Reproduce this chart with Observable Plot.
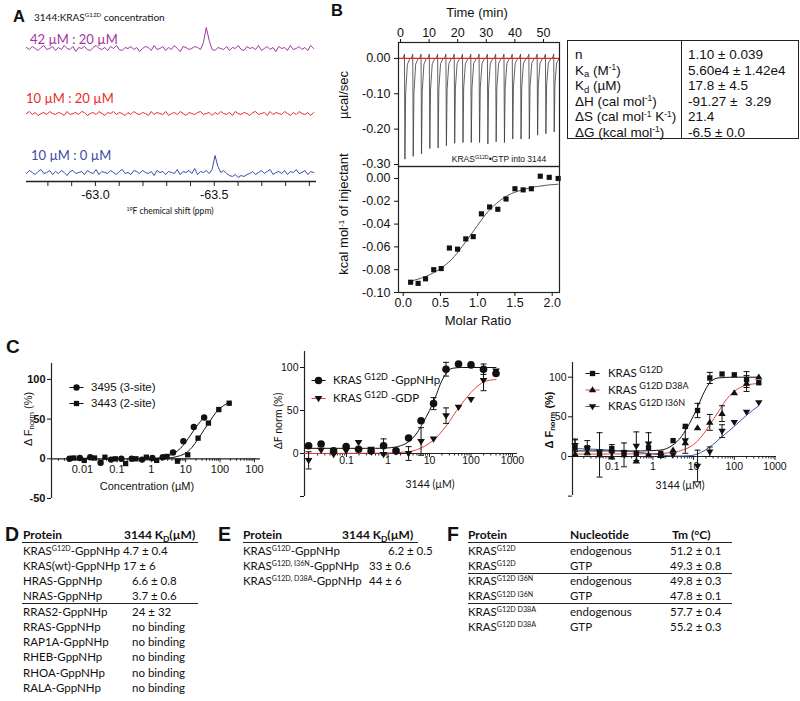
<!DOCTYPE html>
<html>
<head>
<meta charset="utf-8">
<script src="https://cdn.jsdelivr.net/npm/d3@7"></script>
<script src="https://cdn.jsdelivr.net/npm/@observablehq/plot@0.6"></script>
<style>
  html, body { margin: 0; padding: 0; background: #fff; }
  #fig { position: relative; width: 800px; height: 701px; overflow: hidden; font-family: "Liberation Sans", Arial, sans-serif; color: #111; }
  .t { position: absolute; white-space: nowrap; line-height: 1.1; }
  .p { position: absolute; }
  .p svg { display: block; overflow: visible; }
  .t sup { font-size: 0.62em; position: relative; top: -0.5em; vertical-align: baseline; line-height: 0; }
  .t sub { font-size: 0.7em; position: relative; top: 0.3em; vertical-align: baseline; line-height: 0; }
  .t.lg sup { font-size: 0.78em; top: -0.45em; }
  .hr { position: absolute; height: 0; border-top: 1.4px solid #222; }
</style>
</head>
<body>
<div id="fig"></div>
<script>
// ================= DATA =================
// ---- Panel A: 19F NMR spectra (intensity, arbitrary units) ----
const nmrPpmStart = -62.71;
const nmrPpmStep = -0.0122;
const nmr42_20 = [1,-1,2,0,-2,1,3,-1,0,2, -2,1,-1,3,0,-1,2,-3,1,0, 2,-1,-2,1,3,0,-1,1,-2,2, 0,3,-1,-2,1,0,2,-1,1,-3,
  0,2,1,-2,3,-1,0,2,-2,1, -1,3,0,-3,2,1,-1,0,2,1, -1,6,21,8,-1,-2,1,0,-1,2, -2,1,0,3,-1,-2,2,0,1,-1,
  3,-2,0,2,-1,1,-3,2,0,1, -2,3,-1,0,2,-1,1,-2,3,0];
const nmr10_20 = [0,2,-1,1,-2,0,1,-1,2,0, -1,1,0,-2,2,-1,0,1,-1,2, 1,-2,0,1,-1,2,0,-2,1,0, 2,-1,1,0,-2,1,-1,2,0,-1,
  1,0,-2,2,-1,1,0,-1,2,-2, 0,1,-1,2,0,-2,1,0,-1,1, 2,-1,0,1,-2,1,-1,2,0,-1, 1,-2,2,0,-1,1,0,-2,1,2,
  -1,0,1,-2,2,-1,1,0,-1,2, 0,-2,1,-1,2,0,-1,1,-2,1];
const nmr10_0 = [-1,2,0,-2,1,3,-1,0,2,-2, 1,-1,2,0,-3,1,2,-1,0,1, -2,2,0,-1,3,-2,1,0,-1,2, 0,-2,1,3,-1,0,-2,2,1,-1,
  2,0,-1,1,-3,2,0,1,-2,1, 0,-1,3,-2,1,0,2,-1,4,-2, 1,0,2,-1,3,17,6,0,2,-1, -3,-4,-2,-5,-3,-4,-2,-1,1,-2,
  0,2,-1,1,3,-2,0,1,-1,2, -2,1,0,3,-1,0,2,-2,1,0];
const nmrTraceLabels = ["42 µM : 20 µM", "10 µM : 20 µM", "10 µM : 0 µM"];
const nmrTickValues = [-62.8, -62.9, -63.0, -63.1, -63.2, -63.3, -63.4, -63.5, -63.6, -63.7, -63.8, -63.9];
const nmrTickLabels = ["", "", "-63.0", "", "", "", "", "-63.5", "", "", "", ""];

// ---- Panel B: ITC ----
const itcInjectionTime = [1.5, 4.4, 7.3, 10.2, 13.1, 16.0, 18.9, 21.8, 24.7, 27.6, 30.5, 33.4, 36.3, 39.2, 42.1, 45.0, 47.9, 50.8, 53.7];
const itcPeakMinimum = [-0.285, -0.277, -0.270, -0.255, -0.253, -0.247, -0.240, -0.238, -0.238, -0.238, -0.242, -0.236, -0.238, -0.228, -0.228, -0.228, -0.217, -0.213, -0.208];
const itcMolarRatio = [0.10, 0.20, 0.30, 0.41, 0.51, 0.62, 0.73, 0.84, 0.94, 1.05, 1.16, 1.27, 1.38, 1.50, 1.61, 1.72, 1.84, 1.96, 2.08];
const itcHeat = [-0.091, -0.092, -0.088, -0.080, -0.079, -0.061, -0.062, -0.053, -0.051, -0.031, -0.025, -0.027, -0.018, -0.009, -0.010, -0.009, 0.002, 0.001, 0.000];
const itcFitRatio = [0.10, 0.30, 0.50, 0.65, 0.80, 0.90, 1.00, 1.10, 1.25, 1.40, 1.60, 1.80, 2.08];
const itcFitHeat = [-0.090, -0.086, -0.079, -0.071, -0.059, -0.050, -0.041, -0.032, -0.022, -0.015, -0.010, -0.007, -0.005];
const itcTimeTicks = [0, 10, 20, 30, 40, 50];
const itcRateTicks = [0, -0.1, -0.2, -0.3];
const itcRatioTicks = [0, 0.5, 1, 1.5, 2];
const itcHeatTicks = [0, -0.02, -0.04, -0.06, -0.08, -0.1];
const itcParamNames = ["n", "K<sub>a</sub> (M<sup>-1</sup>)", "K<sub>d</sub> (µM)", "ΔH (cal mol<sup>-1</sup>)", "ΔS (cal mol<sup>-1</sup> K<sup>-1</sup>)", "ΔG (kcal mol<sup>-1</sup>)"];
const itcParamValues = ["1.10 ± 0.039", "5.60e4 ± 1.42e4", "17.8 ± 4.5", "-91.27 ±&nbsp; 3.29", "21.4", "-6.5 ± 0.0"];

// ---- Panel C left: MST, compounds 3495 / 3443 ----
const c1Conc3495 = [0.0042, 0.0084, 0.0168, 0.0337, 0.0674, 0.135, 0.27, 0.54, 1.08, 2.16, 4.3, 8.6, 17.3, 34.5];
const c1Resp3495 = [0, 1, 2, -5, -1, 0, 0, -1, 1, 2, 8, 22, 40, 52];
const c1Conc3443 = [0.0056, 0.0113, 0.0225, 0.045, 0.09, 0.18, 0.36, 0.72, 1.44, 2.88, 5.8, 11.5, 23, 46, 92, 184.5];
const c1Resp3443 = [1, -2, 1, 2, 0, -6, 0, 2, -2, 3, -3, 5, 26, 45, 62, 70];
const c1Fit3495Conc = [1, 2, 3, 5, 7, 10, 14, 20, 27, 34.5];
const c1Fit3495Resp = [0, 1.5, 3.5, 8, 13, 21, 30, 40, 47, 53];
const c1Fit3443Conc = [2, 4, 7, 10, 15, 23, 35, 50, 75, 110, 150, 184.5];
const c1Fit3443Resp = [0, 1.5, 4, 7, 14, 25, 37, 47, 58, 65, 69, 71];
const c1Legend = ["3495 (3-site)", "3443 (2-site)"];
const c1XTicks = [0.01, 0.1, 1, 10, 100, 1000];
const c1XTickLabels = ["0.01", "0.1", "1", "10", "100", "100"];
const c1YTicks = [-50, 0, 50, 100];
const c1YTickLabels = ["-50", "0", "50", "100"];

// ---- Panel C middle: KRAS G12D GppNHp vs GDP ----
const c2Conc = [0.0122, 0.0244, 0.0488, 0.0977, 0.195, 0.391, 0.781, 1.56, 3.13, 6.25, 12.5, 25, 50, 100, 200, 400];
const c2GppNHp = [9, 11, 3, 8, 5, 3, 9, 3, 18, 38, 58, 98, 104, 103, 98, 93];
const c2GppNHpErr = [0, 0, 0, 0, 0, 0, 8, 0, 0, 0, 7, 8, 0, 0, 6, 0];
const c2GDP = [-8, 4, -1, 3, 13, 5, -1, 2, 0, 14, 17, 44, 54, 63, 85, 96];
const c2GDPErr = [10, 0, 0, 0, 0, 0, 0, 0, 8, 16, 0, 9, 0, 0, 12, 0];
const c2FitGppNHpConc = [0.0097, 0.5, 1, 2, 3, 5, 7, 10, 14, 18, 25, 35, 60, 400];
const c2FitGppNHpResp = [6, 6, 6.5, 9, 13, 24, 36, 50, 66, 80, 93, 99, 100, 100];
const c2FitGDPConc = [0.0097, 1, 3, 6, 10, 15, 20, 30, 45, 70, 100, 150, 220, 400];
const c2FitGDPResp = [0, 0.5, 2, 6, 12, 19, 26, 37, 50, 62, 71, 79, 84, 86];
const c2Legend = ["KRAS<sup> G12D</sup> -GppNHp", "KRAS<sup> G12D</sup> -GDP"];
const c2XTicks = [0.1, 1, 10, 100, 1000];
const c2XTickLabels = ["0.1", "1", "10", "100", "1000"];
const c2YTicks = [-50, 0, 50, 100];
const c2YTickLabels = ["", "0", "50", "100"];

// ---- Panel C right: KRAS G12D mutants ----
const c3Conc = [0.0122, 0.0244, 0.0488, 0.0977, 0.195, 0.391, 0.781, 1.56, 3.13, 6.25, 12.5, 25, 50, 100, 200, 400];
const c3G12D = [11, 11, 3, 10, 5, 4, 11, 4, 20, 38, 58, 99, 104, 103, 97, 93];
const c3G12DErr = [10, 9, 0, 5, 0, 0, 0, 0, 0, 0, 9, 7, 0, 0, 10, 0];
const c3D38A = [3, 5, 2, -1, 2, -6, 2, 1, 8, 17, 36, 43, 54, 80, 92, 100];
const c3D38AErr = [0, 0, 28, 0, 15, 0, 0, 0, 0, 0, 0, 10, 10, 0, 10, 0];
const c3I36N = [14, 10, 6, 5, 5, 13, 16, 1, 2, 20, -12, 6, 32, 43, 56, 68];
const c3I36NErr = [8, 0, 0, 0, 0, 18, 14, 0, 0, 16, 20, 6, 8, 0, 0, 0];
const c3FitG12DConc = [0.0106, 0.5, 1.5, 3, 5, 8, 12, 17, 25, 40, 100, 400];
const c3FitG12DResp = [7, 7, 8, 14, 25, 42, 60, 78, 93, 99, 100, 100];
const c3FitD38AConc = [0.0106, 1, 3, 6, 10, 15, 25, 40, 60, 100, 200, 400];
const c3FitD38AResp = [3, 3.5, 5, 9, 15, 24, 40, 56, 70, 82, 90, 92];
const c3FitI36NConc = [0.0106, 0.1, 0.5, 1.5, 4, 8, 15, 25, 50, 100, 200, 400];
const c3FitI36NResp = [10, 8, 5, 2, 0.5, 1, 5, 12, 25, 38, 52, 64];
const c3Legend = ["KRAS<sup> G12D</sup>", "KRAS<sup> G12D D38A</sup>", "KRAS<sup> G12D I36N</sup>"];
const c3XTicks = [0.1, 1, 10, 100, 1000];
const c3XTickLabels = ["0.1", "1", "10", "100", "1000"];
const c3YTicks = [-50, 0, 50, 100];
const c3YTickLabels = ["", "0", "50", "100"];

// ---- Tables D, E, F ----
const dProteins = ["KRAS<sup>G12D</sup>-GppNHp", "KRAS(wt)-GppNHp", "HRAS-GppNHp", "NRAS-GppNHp", "RRAS2-GppNHp", "RRAS-GppNHp", "RAP1A-GppNHp", "RHEB-GppNHp", "RHOA-GppNHp", "RALA-GppNHp"];
const dKd = ["4.7 ± 0.4", "17 ± 6", "6.6 ± 0.8", "3.7 ± 0.6", "24 ± 32", "no binding", "no binding", "no binding", "no binding", "no binding"];
const eProteins = ["KRAS<sup>G12D</sup>-GppNHp", "KRAS<sup>G12D, I36N</sup>-GppNHp", "KRAS<sup>G12D, D38A</sup>-GppNHp"];
const eKd = ["6.2 ± 0.5", "33 ± 0.6", "44 ± 6"];
const fProteins = ["KRAS<sup>G12D</sup>", "KRAS<sup>G12D</sup>", "KRAS<sup>G12D I36N</sup>", "KRAS<sup>G12D I36N</sup>", "KRAS<sup>G12D D38A</sup>", "KRAS<sup>G12D D38A</sup>"];
const fNucleotide = ["endogenous", "GTP", "endogenous", "GTP", "endogenous", "GTP"];
const fTm = ["51.2 ± 0.1", "49.3 ± 0.8", "49.8 ± 0.3", "47.8 ± 0.1", "57.7 ± 0.4", "55.2 ± 0.3"];

// ================= HELPERS =================
const fig = document.getElementById("fig");
const ARIAL = "'Liberation Sans', Arial, sans-serif";
const LATO = "Lato, 'Open Sans', sans-serif";
function txt(html, x, y, o = {}) {
  const d = document.createElement("div");
  d.className = "t" + (o.cls ? " " + o.cls : "");
  d.innerHTML = html;
  d.style.left = x + "px";
  d.style.top = y + "px";
  const ax = o.anchor === "middle" ? "-50%" : o.anchor === "end" ? "-100%" : "0";
  d.style.transform = o.rotate ? `translate(-50%,-50%) rotate(${o.rotate}deg)` : `translate(${ax},-50%)`;
  d.style.fontSize = (o.size || 12) + "px";
  d.style.fontFamily = o.font || ARIAL;
  if (o.weight) d.style.fontWeight = o.weight;
  if (o.color) d.style.color = o.color;
  fig.appendChild(d);
  return d;
}
function hr(x1, x2, y) {
  const d = document.createElement("div");
  d.className = "hr";
  d.style.left = x1 + "px"; d.style.width = (x2 - x1) + "px"; d.style.top = y + "px";
  fig.appendChild(d);
}
function place(svg, x, y, w) {
  const d = document.createElement("div");
  d.className = "p";
  d.style.left = x + "px"; d.style.top = y + "px"; d.style.width = w + "px";
  d.appendChild(svg);
  fig.appendChild(d);
}
const sty = (fs) => ({background: "transparent", fontFamily: ARIAL, fontSize: fs + "px", color: "#111", overflow: "visible"});
const hline = {draw(ctx, size) { const w = Math.sqrt(size / Math.PI); ctx.moveTo(-w, 0); ctx.lineTo(w, 0); }};
const triDown = {draw(ctx, size) { const r = Math.sqrt(size / Math.PI) * 1.2; ctx.moveTo(-r, -r * 0.62); ctx.lineTo(r, -r * 0.62); ctx.lineTo(0, r); ctx.closePath(); }};
const triUp = {draw(ctx, size) { const r = Math.sqrt(size / Math.PI) * 1.2; ctx.moveTo(-r, r * 0.62); ctx.lineTo(r, r * 0.62); ctx.lineTo(0, -r); ctx.closePath(); }};
const zip = (xs, ys) => xs.map((x, i) => ({x, y: ys[i]}));

// ================= PANEL A =================
const nmrTraces = [
  {values: nmr42_20, color: "#a2359d", offset: 133},
  {values: nmr10_20, color: "#ec2a2c", offset: 68},
  {values: nmr10_0, color: "#3b4ba5", offset: 9}
];
const nmrData = nmrTraces.flatMap((t, k) => t.values.map((v, i) => ({k, ppm: nmrPpmStart + i * nmrPpmStep, y: t.offset + v})));
const nmrLabelMap = new Map(nmrTickValues.map((v, i) => [v, nmrTickLabels[i]]));
const plotA = Plot.plot({
  width: 340, height: 215, marginLeft: 26, marginRight: 24, marginTop: 20, marginBottom: 34,
  style: sty(12.5),
  x: {domain: [-62.71, -63.93]},
  y: {domain: [0, 161], axis: null},
  marks: [
    Plot.ruleY([0], {stroke: "#222", strokeWidth: 1.3}),
    Plot.axisX({ticks: nmrTickValues, tickFormat: d => nmrLabelMap.get(d) ?? "", tickSize: 5, tickPadding: 4, label: null, stroke: "#222"}),
    ...nmrTraces.map((t, k) => Plot.line(nmrData.filter(d => d.k === k), {x: "ppm", y: "y", stroke: t.color, strokeWidth: 1}))
  ]
});
place(plotA, 0, 0, 340);
txt("A", 13, 15.5, {size: 16.5, weight: "bold"});
txt("3144:KRAS<sup>G12D</sup> concentration", 34, 16.5, {size: 10, font: LATO});
txt(nmrTraceLabels[0], 30, 38.5, {size: 13, font: LATO, color: nmrTraces[0].color});
txt(nmrTraceLabels[1], 26, 98, {size: 13, font: LATO, color: nmrTraces[1].color});
txt(nmrTraceLabels[2], 31, 155, {size: 13, font: LATO, color: nmrTraces[2].color});
txt("<sup>19</sup>F chemical shift (ppm)", 170, 212, {size: 8.5, font: LATO, anchor: "middle"});

// ================= PANEL B =================
const spikeData = itcInjectionTime.flatMap((t, i) => {
  const m = itcPeakMinimum[i];
  return [[t - 0.6, 0], [t - 0.12, 0.012], [t + 0.05, m], [t + 0.3, m * 0.35], [t + 0.9, m * 0.06], [t + 1.8, 0]].map(([x, y]) => ({i, x, y}));
});
const plotBTop = Plot.plot({
  width: 240, height: 170, marginLeft: 68, marginRight: 11, marginTop: 42, marginBottom: 4,
  style: sty(12.5),
  x: {domain: [-0.7, 55.6]},
  y: {domain: [-0.3057, 0.045]},
  marks: [
    Plot.line(spikeData, {x: "x", y: "y", z: "i", stroke: "#3a3a3a", strokeWidth: 0.8}),
    Plot.ruleY([0], {stroke: "#e0242c", strokeWidth: 1.3}),
    Plot.frame({stroke: "#222", strokeWidth: 1.2}),
    Plot.axisX({anchor: "top", ticks: itcTimeTicks, tickSize: 4, tickPadding: 2, label: null}),
    Plot.axisY({ticks: itcRateTicks, tickFormat: d => d.toFixed(2), tickSize: 4, tickPadding: 4, label: null})
  ]
});
place(plotBTop, 330, 0, 240);
const plotBBot = Plot.plot({
  width: 240, height: 164, marginLeft: 68, marginRight: 11, marginTop: 0, marginBottom: 38,
  style: sty(12.5),
  x: {domain: [-0.063, 2.098]},
  y: {domain: [-0.1, 0.0105]},
  marks: [
    Plot.line(zip(itcFitRatio, itcFitHeat), {x: "x", y: "y", curve: "monotone-x", stroke: "#555", strokeWidth: 1}),
    Plot.dot(zip(itcMolarRatio, itcHeat), {x: "x", y: "y", symbol: "square", r: 2.9, fill: "#111"}),
    Plot.frame({stroke: "#222", strokeWidth: 1.2}),
    Plot.axisX({ticks: itcRatioTicks, tickFormat: d => d.toFixed(1), tickSize: 4, tickPadding: 2, label: null}),
    Plot.axisY({ticks: itcHeatTicks, tickFormat: d => d.toFixed(2), tickSize: 4, tickPadding: 4, label: null})
  ]
});
place(plotBBot, 330, 166, 240);
txt("B", 331, 10, {size: 16.5, weight: "bold"});
txt("Time (min)", 477, 13, {size: 13, anchor: "middle"});
txt("µcal/sec", 344, 95, {size: 13, rotate: -90});
txt("kcal mol<sup>-1</sup> of injectant", 344, 214, {size: 13, rotate: -90});
txt("Molar Ratio", 478, 321, {size: 13, anchor: "middle"});
txt("KRAS<sup>G12D</sup>•GTP into 3144", 499, 160, {size: 8.5, anchor: "middle"});
// parameter table
(function () {
  const box = document.createElement("div");
  box.style.cssText = "position:absolute;left:567px;top:40px;width:232px;height:99px;box-sizing:border-box;border:1.3px solid #222;";
  fig.appendChild(box);
  const dv = document.createElement("div");
  dv.style.cssText = "position:absolute;left:681px;top:40px;width:0;height:99px;border-left:1.3px solid #222;";
  fig.appendChild(dv);
  itcParamNames.forEach((n, i) => {
    txt(n, 575, 55 + i * 15.5, {size: 13.5});
    txt(itcParamValues[i], 688, 55 + i * 15.5, {size: 13.5});
  });
})();

// ================= PANEL C =================
function errMarks(conc, resp, err, color) {
  const pts = conc.map((c, i) => ({c, y: resp[i], e: err[i]})).filter(d => d.e > 0);
  return [
    Plot.ruleX(pts, {x: "c", y1: d => d.y - d.e, y2: d => d.y + d.e, stroke: color, strokeWidth: 1}),
    Plot.dot(pts, {x: "c", y: d => d.y + d.e, symbol: hline, r: 3, stroke: color, fill: "none", strokeWidth: 1}),
    Plot.dot(pts, {x: "c", y: d => d.y - d.e, symbol: hline, r: 3, stroke: color, fill: "none", strokeWidth: 1})
  ];
}
function buildC(o) {
  const pxPerUnit = (o.height - o.mT - o.mB) / (o.yDom[1] - o.yDom[0]);
  const u = px => px / pxPerUnit;
  const [lo, hi] = o.xDom;
  const minor = [];
  for (let e = Math.floor(Math.log10(lo)); e <= Math.ceil(Math.log10(hi)); e++)
    for (let m = 2; m <= 9; m++) { const v = m * Math.pow(10, e); if (v >= lo && v <= hi) minor.push(v); }
  const yMap = new Map(o.yTicks.map((v, i) => [v, o.yTickLabels[i]]));
  const marks = [
    Plot.ruleX([lo], {stroke: "#222", strokeWidth: 1.2}),
    Plot.axisY({ticks: o.yTicks, tickFormat: d => yMap.get(d) ?? "", tickSize: 4, tickPadding: 2, fontWeight: o.yBold ? "bold" : "normal", fontSize: o.yFs, label: null}),
    Plot.ruleY([0], {stroke: "#222", strokeWidth: 1.2}),
    Plot.ruleX(o.xTicks.filter(v => v >= lo && v <= hi), {x: d => d, y1: 0, y2: -u(4), stroke: "#222"}),
    Plot.ruleX(minor, {x: d => d, y1: 0, y2: -u(2.5), stroke: "#222"}),
    Plot.text(o.xTicks, {x: d => d, y: 0, dy: o.xLabelDy, text: (d, i) => o.xTickLabels[i], fontSize: o.xFs}),
    ...o.fits.map(f => Plot.line(zip(f.x, f.y), {x: "x", y: "y", curve: "monotone-x", stroke: f.color, strokeWidth: 1})),
    ...o.series.flatMap(s => s.err ? errMarks(s.x, s.y, s.err, "#111") : []),
    ...o.series.map(s => Plot.dot(zip(s.x, s.y), {x: "x", y: "y", symbol: s.symbol, r: s.r, fill: "#111", stroke: "none"})),
    ...o.legend.entries.flatMap((e, i) => [
      Plot.dot([e], {frameAnchor: "top-left", dx: o.legend.dx, dy: o.legend.dy0 + i * o.legend.step, symbol: hline, r: 7, stroke: e.line, fill: "none", strokeWidth: 1}),
      Plot.dot([e], {frameAnchor: "top-left", dx: o.legend.dx, dy: o.legend.dy0 + i * o.legend.step, symbol: e.symbol, r: e.r, fill: "#111", stroke: "none"})
    ])
  ];
  return Plot.plot({
    width: o.width, height: o.height, marginLeft: o.mL, marginRight: o.mR, marginTop: o.mT, marginBottom: o.mB,
    style: sty(o.xFs),
    x: {type: "log", domain: o.xDom, axis: null},
    y: {domain: o.yDom},
    marks
  });
}

const plotC1 = buildC({
  width: 270, height: 150, mL: 51, mR: 10, mT: 8, mB: 7,
  xDom: [0.00126, 1500], yDom: [-50, 120],
  yTicks: c1YTicks, yTickLabels: c1YTickLabels, yBold: true, yFs: 11,
  xTicks: c1XTicks, xTickLabels: c1XTickLabels, xFs: 11, xLabelDy: 10.5,
  fits: [{x: c1Fit3495Conc, y: c1Fit3495Resp, color: "#111"}, {x: c1Fit3443Conc, y: c1Fit3443Resp, color: "#111"}],
  series: [{x: c1Conc3495, y: c1Resp3495, symbol: "circle", r: 3.2}, {x: c1Conc3443, y: c1Resp3443, symbol: "square", r: 3}],
  legend: {dx: 25, dy0: 24, step: 16, entries: [{symbol: "circle", r: 3.2, line: "#111"}, {symbol: "square", r: 3, line: "#111"}]}
});
place(plotC1, 0, 355, 270);

const plotC2 = buildC({
  width: 270, height: 160, mL: 34, mR: 23, mT: 6, mB: 9,
  xDom: [0.00971, 1318], yDom: [-50, 118.6],
  yTicks: c2YTicks, yTickLabels: c2YTickLabels, yBold: false, yFs: 10.5,
  xTicks: c2XTicks, xTickLabels: c2XTickLabels, xFs: 10.5, xLabelDy: 7,
  fits: [{x: c2FitGppNHpConc, y: c2FitGppNHpResp, color: "#111"}, {x: c2FitGDPConc, y: c2FitGDPResp, color: "#e8413c"}],
  series: [
    {x: c2Conc, y: c2GppNHp, err: c2GppNHpErr, symbol: "circle", r: 3.8},
    {x: c2Conc, y: c2GDP, err: c2GDPErr, symbol: triDown, r: 3.2}
  ],
  legend: {dx: 14, dy0: 29, step: 18, entries: [{symbol: "circle", r: 3.8, line: "#111"}, {symbol: triDown, r: 3.2, line: "#e8413c"}]}
});
place(plotC2, 270, 345, 270);

const plotC3 = buildC({
  width: 260, height: 150, mL: 32, mR: 24, mT: 7, mB: 10,
  xDom: [0.01057, 1089], yDom: [-49.2, 118.5],
  yTicks: c3YTicks, yTickLabels: c3YTickLabels, yBold: false, yFs: 10.5,
  xTicks: c3XTicks, xTickLabels: c3XTickLabels, xFs: 10.5, xLabelDy: 10.5,
  fits: [
    {x: c3FitG12DConc, y: c3FitG12DResp, color: "#111"},
    {x: c3FitD38AConc, y: c3FitD38AResp, color: "#e8413c"},
    {x: c3FitI36NConc, y: c3FitI36NResp, color: "#3f55a8"}
  ],
  series: [
    {x: c3Conc, y: c3G12D, err: c3G12DErr, symbol: "square", r: 3},
    {x: c3Conc, y: c3D38A, err: c3D38AErr, symbol: triUp, r: 3.1},
    {x: c3Conc, y: c3I36N, err: c3I36NErr, symbol: triDown, r: 3.1}
  ],
  legend: {dx: 20, dy0: 11, step: 16.5, entries: [
    {symbol: "square", r: 3, line: "#111"}, {symbol: triUp, r: 3.1, line: "#e8413c"}, {symbol: triDown, r: 3.1, line: "#3f55a8"}]}
});
place(plotC3, 540, 355, 260);

txt("C", 6, 347, {size: 19, weight: "bold"});
txt("Δ F<sub>norm</sub> (%)", 28, 419, {size: 11, rotate: -90});
txt("Concentration (µM)", 147, 486, {size: 11, anchor: "middle"});
txt(c1Legend[0], 91, 387, {size: 11.5});
txt(c1Legend[1], 91, 403, {size: 11.5});
txt("ΔF norm (%)", 279, 421, {size: 10.5, rotate: -90, font: LATO});
txt("3144 (µM)", 430, 485, {size: 10.5, anchor: "middle", font: LATO});
txt(c2Legend[0], 333, 380, {size: 11.5, font: LATO, cls: "lg"});
txt(c2Legend[1], 333, 398, {size: 11.5, font: LATO, cls: "lg"});
txt("Δ F<sub>norm</sub> (%)", 549, 420, {size: 11, rotate: -90, weight: "bold"});
txt("3144 (µM)", 680, 486, {size: 10.5, anchor: "middle", font: LATO});
c3Legend.forEach((l, i) => txt(l, 608, 373 + i * 16.5, {size: 11.5, font: LATO, cls: "lg"}));

// ================= TABLES D, E, F =================
const rowY = i => 550.5 + i * 15.25;
const TS = 11.5, HS = 12;
// D
txt("D", 5, 535, {size: 19.5, weight: "bold"});
txt("Protein", 23, 535, {size: HS, weight: "bold", font: LATO});
txt("3144 K<sub>D</sub>(µM)", 124, 535, {size: HS, weight: "bold", font: LATO});
hr(22, 198, 542);
dProteins.forEach((p, i) => {
  if (i < 2) {
    txt(p + " " + dKd[i], 23, rowY(i), {size: TS, font: LATO});
  } else {
    txt(p, 23, rowY(i), {size: TS, font: LATO});
    txt(dKd[i], 132, rowY(i), {size: TS, font: LATO});
  }
});
hr(22, 198, 603);
// E
txt("E", 218, 535, {size: 19.5, weight: "bold"});
txt("Protein", 243, 535, {size: HS, weight: "bold", font: LATO});
txt("3144 K<sub>D</sub>(µM)", 342, 535, {size: HS, weight: "bold", font: LATO});
hr(243, 418, 542);
const eValueX = [388, 369, 369];
eProteins.forEach((p, i) => {
  txt(p, 243, rowY(i), {size: TS, font: LATO});
  txt(eKd[i], eValueX[i], rowY(i), {size: TS, font: LATO});
});
// F
txt("F", 447, 535, {size: 19.5, weight: "bold"});
txt("Protein", 468, 535, {size: HS, weight: "bold", font: LATO});
txt("Nucleotide", 570, 535, {size: HS, weight: "bold", font: LATO});
txt("Tm (°C)", 672, 535, {size: HS, weight: "bold", font: LATO});
hr(468, 732, 542);
fProteins.forEach((p, i) => {
  txt(p, 468, rowY(i), {size: TS, font: LATO});
  txt(fNucleotide[i], 570, rowY(i), {size: TS, font: LATO});
  txt(fTm[i], 670, rowY(i), {size: TS, font: LATO});
});
hr(468, 732, 573);
hr(468, 732, 603);
</script>
</body>
</html>
